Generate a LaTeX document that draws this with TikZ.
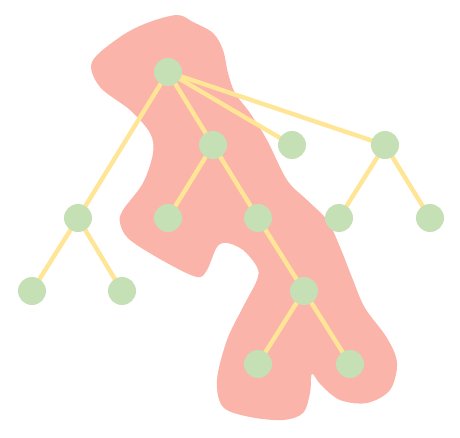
\documentclass[tikz,border=0pt]{standalone}
\begin{document}
\begin{tikzpicture}[x=0.75pt,y=-0.75pt,
  vtx/.style={circle,minimum size=21pt,inner sep=0pt},
  dot/.style={fill=nodegreen},
  edge/.style={draw=edgeyellow,line width=3.3pt}]
\definecolor{nodegreen}{RGB}{197,224,180}
\definecolor{edgeyellow}{RGB}{255,229,150}
\definecolor{blob}{RGB}{251,180,170}
\useasboundingbox (0,0) rectangle (460,438);
\fill[blob] plot[smooth cycle,tension=0.55] coordinates {
(177,15)(193,22)(213,33)(223,50)(228,73)(235,93)(250,113)(267,140)(287,180)(307,200)(327,220)(340,247)(353,280)(365,308)(387,338)(397,363)(390,390)(367,403)(340,400)(321,385)(312,374)(310,393)(303,413)(283,420)(250,417)(223,407)(217,380)(227,340)(243,307)(257,280)(257,267)(243,250)(227,243)(217,247)(207,270)(197,277)(167,263)(130,240)(120,223)(123,210)(143,183)(153,153)(150,133)(130,110)(100,87)(92,62)(120,37)(147,23)};
\node[vtx] (r) at (168,72) {};
\node[vtx] (a) at (213,145) {};
\node[vtx] (b) at (292,145) {};
\node[vtx] (c) at (385,145) {};
\node[vtx] (d) at (78,218) {};
\node[vtx] (a1) at (168,218) {};
\node[vtx] (a2) at (258,218) {};
\node[vtx] (c1) at (339,218) {};
\node[vtx] (c2) at (430,218) {};
\node[vtx] (d1) at (32,291) {};
\node[vtx] (d2) at (122,291) {};
\node[vtx] (e) at (304,291) {};
\node[vtx] (e1) at (258,364) {};
\node[vtx] (e2) at (350,364) {};
\foreach \u/\v in {r/a,r/b,r/c,r/d,a/a1,a/a2,c/c1,c/c2,d/d1,d/d2,a2/e,e/e1,e/e2}
  \draw[edge] (\u.center) -- (\v.center);
\foreach \n in {r,a,b,c,d,a1,a2,c1,c2,d1,d2,e,e1,e2}
  \fill[dot] (\n.center) circle (14);
\end{tikzpicture}
\end{document}
